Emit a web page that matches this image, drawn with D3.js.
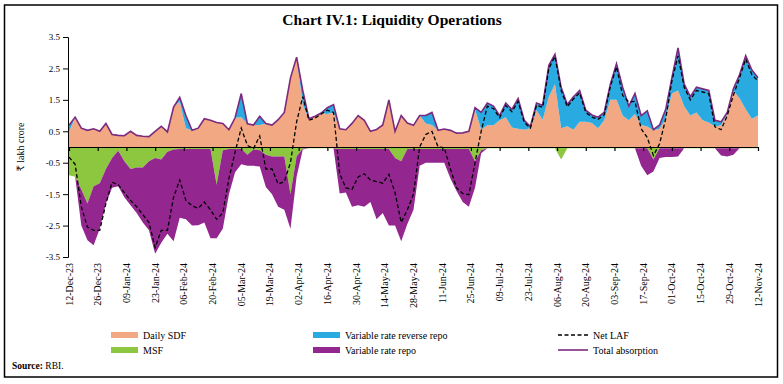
<!DOCTYPE html>
<html>
<head>
<meta charset="utf-8">
<script src="https://cdn.jsdelivr.net/npm/d3@7"></script>
<style>
  body { margin: 0; background: #fff; }
  text { font-family: "Liberation Serif", "DejaVu Serif", serif; fill: #000; }
</style>
</head>
<body>
<div id="visContainer"></div>
<script>
'use strict';

// x categories: one reading every 3 days from 12-Dec-23
var startDate = '2023-12-12';
var stepDays = 3;
var tickLabels = ['12-Dec-23', '26-Dec-23', '09-Jan-24', '23-Jan-24', '06-Feb-24', '20-Feb-24',
  '05-Mar-24', '19-Mar-24', '02-Apr-24', '16-Apr-24', '30-Apr-24', '14-May-24', '28-May-24',
  '11-Jun-24', '25-Jun-24', '09-Jul-24', '23-Jul-24', '06-Aug-24', '20-Aug-24', '03-Sep-24',
  '17-Sep-24', '01-Oct-24', '15-Oct-24', '29-Oct-24', '12-Nov-24'];
var yTicks = [3.5, 2.5, 1.5, 0.5, -0.5, -1.5, -2.5, -3.5];

// ₹ lakh crore
var dailySDF = [0.48,0.95,0.6,0.53,0.58,0.5,0.75,0.4,0.37,0.36,0.5,0.37,0.34,0.33,0.5,0.66,0.48,1.27,1.45,0.6,
  0.53,0.6,0.9,0.85,0.78,0.75,0.55,0.93,0.95,0.74,0.7,0.7,0.75,0.7,0.87,1.1,2.2,2.86,1.35,0.9,
  0.98,1.08,1.05,1.1,0.58,0.55,0.75,1.0,0.85,0.5,0.56,0.7,1.5,0.5,1.0,0.76,0.69,1.0,0.75,0.7,
  0.53,0.57,0.53,0.44,0.45,0.5,1.2,0.55,0.69,0.69,0.85,0.95,0.62,0.58,0.55,0.6,1.17,0.87,1.6,2.0,
  0.6,0.66,0.55,0.8,0.8,0.76,0.6,0.85,1.5,1.5,1.0,0.85,1.05,0.7,0.65,0.53,0.58,0.9,1.7,1.8,
  1.3,1.0,1.1,0.85,0.78,0.65,0.69,1.05,1.8,1.55,1.2,0.9,1.0];
var reverseRepo = [0.21,0,0,0,0,0,0,0,0,0,0,0,0,0,0,0,0,0,0.13,0.4,
  0,0,0,0,0,0,0,0,0.75,0,0,0.28,0,0,0,0,0,0,0.45,0,
  0,0,0.2,0.25,0,0,0,0,0,0,0,0,0,0,0,0,0,0,0.25,0.4,
  0,0,0,0,0,0,0.05,0.55,0.71,0.61,0.15,0.45,0.58,0.96,0.3,0.05,0.23,0.46,1.0,0.95,
  1.3,0.69,1.05,1.0,0.37,0.26,0.35,0.25,0.5,1.15,0.9,0.45,0.65,0.3,0.5,0.02,0.12,0.3,0.5,1.35,
  0.7,0.6,0.8,1.0,1.02,0.2,0.11,0.05,0.05,0.75,1.7,1.55,1.2];
var msf = [0.9,0.95,1.35,1.8,1.25,1.15,0.7,0.35,0.12,0.45,0.7,0.65,0.65,0.45,0.35,0.4,0.15,0.08,0.06,0.06,
  0.06,0.06,0.06,0.06,1.2,0.1,0.06,0.06,0.06,0.25,0.08,0.1,0.25,0.3,0.3,0.3,1.5,0.3,0.05,0.04,
  0.04,0.04,0.04,0.04,0.06,0.06,0.06,0.06,0.06,0.06,0.06,0.06,0.06,0.35,0.45,0.06,0.06,0.06,0.06,0.06,
  0.06,0.06,0.06,0.06,0.06,0.06,0.45,0.1,0.04,0.04,0.04,0.04,0.04,0.04,0.04,0.04,0.04,0.04,0.04,0.04,
  0.4,0.04,0.04,0.04,0.04,0.04,0.04,0.04,0.04,0.04,0.04,0.04,0.04,0.04,0.04,0.4,0.04,0.04,0.04,0.04,
  0.04,0.04,0.04,0.04,0.04,0.04,0.04,0.04,0.04,0.04,0.04,0.04,0.04];
var repo = [0,0,1.15,1.17,1.88,1.45,1.1,0.95,1.13,1.15,1.15,1.45,1.75,2.2,3.05,2.65,2.61,2.92,2.19,2.24,
  2.44,2.43,2.34,2.84,1.7,2.5,1.44,0.74,0.49,0.35,0.52,0.52,1.02,1.2,1.6,1.7,1.1,0.65,0.03,0,
  0,0,0,0,1.42,1.39,1.84,1.79,1.84,1.69,2.24,2.04,2.44,2.15,2.55,2.39,1.94,0.54,0.44,0.44,
  0.44,0.44,0.94,1.34,1.69,1.84,0.85,0.1,0,0,0,0,0,0,0,0,0,0,0,0,
  0,0,0,0,0,0,0,0,0,0,0,0,0,0.56,0.86,0.38,0.31,0.28,0.28,0.26,
  0,0,0,0,0,0,0.23,0.26,0.21,0,0,0,0];
var netLAF = [-0.32,-0.55,-1.9,-2.55,-2.65,-2.65,-1.8,-1.12,-1.2,-1.45,-1.7,-1.9,-2.15,-2.4,-3.2,-2.65,-2.65,-1.6,-1.05,-1.7,
  -1.87,-1.95,-1.75,-2.0,-2.3,-2.1,-1.0,-0.16,0.6,0.05,-0.05,0.35,-0.7,-0.7,-1.18,-1.1,-0.5,0.8,1.6,0.85,
  0.92,1.05,1.17,1.1,-0.85,-1.3,-1.35,-0.95,-0.85,-1.05,-1.1,-1.15,-0.87,-1.45,-2.4,-2.0,-1.5,0.0,0.4,0.5,
  0.0,-0.02,-0.7,-1.3,-1.48,-1.52,-0.5,0.5,1.3,1.22,0.93,1.32,1.12,1.45,0.78,0.6,1.33,1.26,2.5,2.88,
  1.8,1.28,1.53,1.72,1.1,0.95,0.88,1.02,1.92,2.55,1.64,1.43,1.45,0.58,0.3,-0.27,0.1,0.9,2.1,2.9,
  1.9,1.5,1.8,1.75,1.7,0.64,0.55,1.0,1.65,2.2,2.8,2.3,2.1];

var colors = { sdf: '#f2a883', vrrr: '#29abe2', msf: '#8dc63f', repo: '#93278f', total: '#7b2a7f' };

var width = 783;
var height = 384;
var svg = d3.select('#visContainer')
  .append('svg')
  .attr('width', width)
  .attr('height', height);

//outer frame
svg.append('rect')
  .attr('x', 4.5).attr('y', 5)
  .attr('width', 773).attr('height', 372)
  .attr('fill', 'none')
  .attr('stroke', '#000')
  .attr('stroke-width', 1.5);

svg.append('text')
  .attr('x', 392).attr('y', 25)
  .attr('text-anchor', 'middle')
  .attr('font-size', '15.5px')
  .attr('font-weight', 'bold')
  .text('Chart IV.1: Liquidity Operations');

var parseTick = d3.timeParse('%d-%b-%y');
var t0 = d3.timeParse('%Y-%m-%d')(startDate);
var tickDates = tickLabels.map(parseTick);

//rows for d3.stack, injections go in as negatives
var rows = dailySDF.map(function (v, i) {
  return {
    date: d3.timeDay.offset(t0, i * stepDays),
    sdf: v,
    vrrr: reverseRepo[i],
    msf: -msf[i],
    repo: -repo[i],
    net: netLAF[i]
  };
});

var x = d3.scaleTime()
  .domain([tickDates[0], tickDates[tickDates.length - 1]])
  .range([69, 758]);
var y = d3.scaleLinear()
  .domain([-3.5, 3.5])
  .range([257, 37]);

//plain cumulative stacks: absorption upwards, injection downwards
var upStack = d3.stack().keys(['sdf', 'vrrr'])(rows);
var downStack = d3.stack().keys(['msf', 'repo'])(rows);
var series = upStack.concat(downStack);

var area = d3.area()
  .x(function (d) { return x(d.data.date); })
  .y0(function (d) { return y(d[0]); })
  .y1(function (d) { return y(d[1]); });

svg.append('g')
  .selectAll('path')
  .data(series)
  .join('path')
  .attr('d', area)
  .attr('fill', function (s) { return colors[s.key]; });

//zero line with the small date ticks
svg.append('g')
  .attr('transform', 'translate(0,' + y(0) + ')')
  .call(d3.axisBottom(x).tickValues(tickDates).tickSize(4).tickSizeOuter(0).tickFormat(''))
  .call(function (g) { g.selectAll('path,line').attr('stroke', '#000').attr('stroke-width', 1.2); });

//total absorption = top of the positive stack
var totalLine = d3.line()
  .x(function (d) { return x(d.data.date); })
  .y(function (d) { return y(d[1]); });
svg.append('path')
  .attr('d', totalLine(upStack[1]))
  .attr('fill', 'none')
  .attr('stroke', colors.total)
  .attr('stroke-width', 1.6);

var netLine = d3.line()
  .x(function (d) { return x(d.date); })
  .y(function (d) { return y(d.net); });
svg.append('path')
  .attr('d', netLine(rows))
  .attr('fill', 'none')
  .attr('stroke', '#000')
  .attr('stroke-width', 1.3)
  .attr('stroke-dasharray', '4,2.5');

//y axis
var yAxis = svg.append('g')
  .attr('transform', 'translate(68,0)')
  .call(d3.axisLeft(y).tickValues(yTicks).tickSize(5).tickSizeOuter(5)
    .tickFormat(function (d) { return d.toFixed(1); }));
yAxis.selectAll('path,line').attr('stroke', '#000');
yAxis.selectAll('text').attr('font-size', '9px').attr('font-family', '"Liberation Serif", serif');

svg.append('text')
  .attr('transform', 'translate(24,147) rotate(-90)')
  .attr('text-anchor', 'middle')
  .attr('font-size', '10px')
  .text('₹ lakh crore');

//date labels, rotated, hanging below the plot
svg.append('g')
  .selectAll('text')
  .data(tickDates)
  .join('text')
  .attr('transform', function (d) { return 'translate(' + x(d) + ',263) rotate(-90)'; })
  .attr('text-anchor', 'end')
  .attr('dy', '0.35em')
  .attr('font-size', '10px')
  .text(function (d, i) { return tickLabels[i]; });

//legend
var legendBoxes = [
  { label: 'Daily SDF', color: colors.sdf, x: 111, y: 332 },
  { label: 'MSF', color: colors.msf, x: 111, y: 347 },
  { label: 'Variable rate reverse repo', color: colors.vrrr, x: 313, y: 332 },
  { label: 'Variable rate repo', color: colors.repo, x: 313, y: 347 }
];
var lg = svg.append('g').selectAll('g').data(legendBoxes).join('g');
lg.append('rect')
  .attr('x', function (d) { return d.x; })
  .attr('y', function (d) { return d.y; })
  .attr('width', 27).attr('height', 6)
  .attr('fill', function (d) { return d.color; });
lg.append('text')
  .attr('x', function (d) { return d.x + 32; })
  .attr('y', function (d) { return d.y + 6.5; })
  .attr('font-size', '10px')
  .text(function (d) { return d.label; });

var legendLines = [
  { label: 'Net LAF', color: '#000', dash: '4,2.5', y: 335 },
  { label: 'Total absorption', color: colors.total, dash: null, y: 350 }
];
var ll = svg.append('g').selectAll('g').data(legendLines).join('g');
ll.append('line')
  .attr('x1', 558).attr('x2', 588)
  .attr('y1', function (d) { return d.y; })
  .attr('y2', function (d) { return d.y; })
  .attr('stroke', function (d) { return d.color; })
  .attr('stroke-width', 1.6)
  .attr('stroke-dasharray', function (d) { return d.dash; });
ll.append('text')
  .attr('x', 593)
  .attr('y', function (d) { return d.y + 3.5; })
  .attr('font-size', '10px')
  .text(function (d) { return d.label; });

var src = svg.append('text')
  .attr('x', 12).attr('y', 369)
  .attr('font-size', '9.5px');
src.append('tspan').attr('font-weight', 'bold').text('Source:');
src.append('tspan').text(' RBI.');
</script>
</body>
</html>
